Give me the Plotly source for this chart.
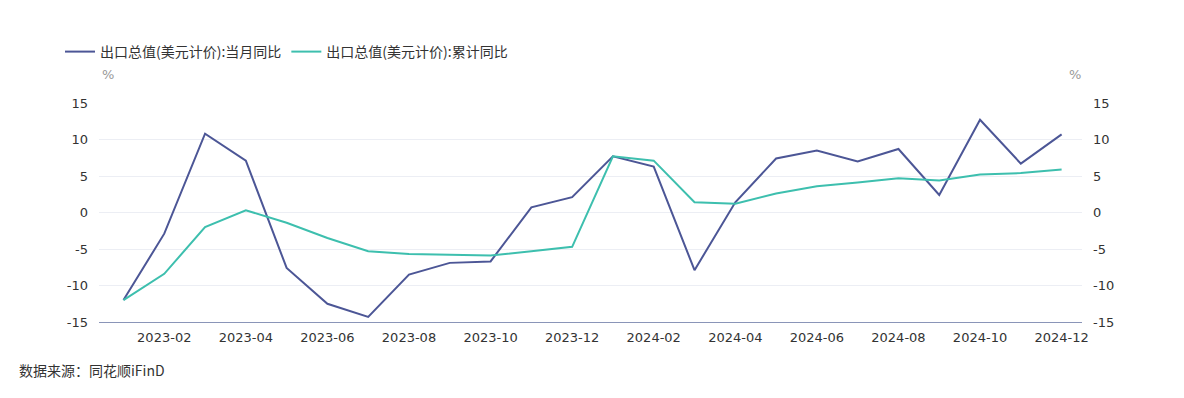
import plotly.graph_objects as go

months = ["2023-01","2023-02","2023-03","2023-04","2023-05","2023-06","2023-07","2023-08",
          "2023-09","2023-10","2023-11","2023-12","2024-01","2024-02","2024-03","2024-04",
          "2024-05","2024-06","2024-07","2024-08","2024-09","2024-10","2024-11","2024-12"]
monthly_yoy = [-12.0, -2.9, 10.8, 7.1, -7.6, -12.5, -14.3, -8.5, -6.9, -6.7, 0.7, 2.1,
               7.7, 6.3, -7.9, 1.4, 7.4, 8.5, 7.0, 8.7, 2.4, 12.7, 6.7, 10.7]
cumulative_yoy = [-12.0, -8.4, -2.0, 0.3, -1.4, -3.5, -5.3, -5.7, -5.8, -5.9, -5.3, -4.7,
                  7.7, 7.1, 1.4, 1.2, 2.6, 3.6, 4.1, 4.7, 4.4, 5.2, 5.4, 5.9]
name1 = "出口总值(美元计价):当月同比"
name2 = "出口总值(美元计价):累计同比"
source = "数据来源：同花顺iFinD"
yticks = [-15, -10, -5, 0, 5, 10, 15]
ytick_text = [str(v) for v in yticks]
xtick_labels = months[1::2]

FONT = "Noto Sans CJK SC, Microsoft YaHei, sans-serif"
NUMFONT = "DejaVu Sans, sans-serif"
C1 = "#4c5696"
C2 = "#3dbfae"
TXT = "#333333"

# page body has an 8px default margin; figure is sized to fit the window
W, H = 1176, 390

fig = go.Figure()
fig.add_trace(go.Scatter(x=months, y=monthly_yoy, name=name1, mode="lines",
                         line=dict(color=C1, width=2), yaxis="y"))
fig.add_trace(go.Scatter(x=months, y=cumulative_yoy, name=name2, mode="lines",
                         line=dict(color=C2, width=2), yaxis="y2"))

fig.update_layout(
    width=W, height=H,
    margin=dict(l=91, r=102, t=95, b=76, autoexpand=False),
    paper_bgcolor="white", plot_bgcolor="white",
    font=dict(family=FONT, size=14, color=TXT),
    showlegend=True,
    legend=dict(orientation="h", x=-0.0397, y=1 - 44 / H, yref="container",
                xanchor="left", yanchor="middle",
                font=dict(family=FONT, size=14, color=TXT), itemwidth=30,
                bgcolor="rgba(0,0,0,0)"),
    xaxis=dict(type="category", range=[-0.6, 23.5], tickmode="array",
               tickvals=xtick_labels, ticktext=xtick_labels, automargin=False,
               showgrid=False, showline=True, linecolor="#8a95b8", linewidth=1,
               ticks="", ticklabelstandoff=3,
               tickfont=dict(family=NUMFONT, size=13, color=TXT), zeroline=False),
    yaxis=dict(range=[-15, 15], tickmode="array", tickvals=yticks, ticktext=ytick_text,
               automargin=False,
               showgrid=True, gridcolor="#eceef4", gridwidth=1, zeroline=False,
               showline=False, ticks="", ticklabelstandoff=10,
               tickfont=dict(family=NUMFONT, size=13, color=TXT)),
    yaxis2=dict(range=[-15, 15], tickmode="array", tickvals=yticks, ticktext=ytick_text,
                overlaying="y",
                side="right", showgrid=False, zeroline=False, showline=False, ticks="",
                automargin=False, ticklabelstandoff=10,
                tickfont=dict(family=NUMFONT, size=13, color=TXT)),
    annotations=[
        dict(text="%", xref="paper", yref="paper", x=0.009, y=1.132, showarrow=False,
             xanchor="center", yanchor="middle",
             font=dict(family=NUMFONT, size=13, color="#999999")),
        dict(text="%", xref="paper", yref="paper", x=0.9929, y=1.132, showarrow=False,
             xanchor="center", yanchor="middle",
             font=dict(family=NUMFONT, size=13, color="#999999")),
        dict(text=source, xref="paper", yref="paper", x=-0.0834, y=-0.219, showarrow=False,
             xanchor="left", yanchor="middle", font=dict(family=FONT, size=14, color=TXT)),
    ],
)

fig.write_html("out.html")
